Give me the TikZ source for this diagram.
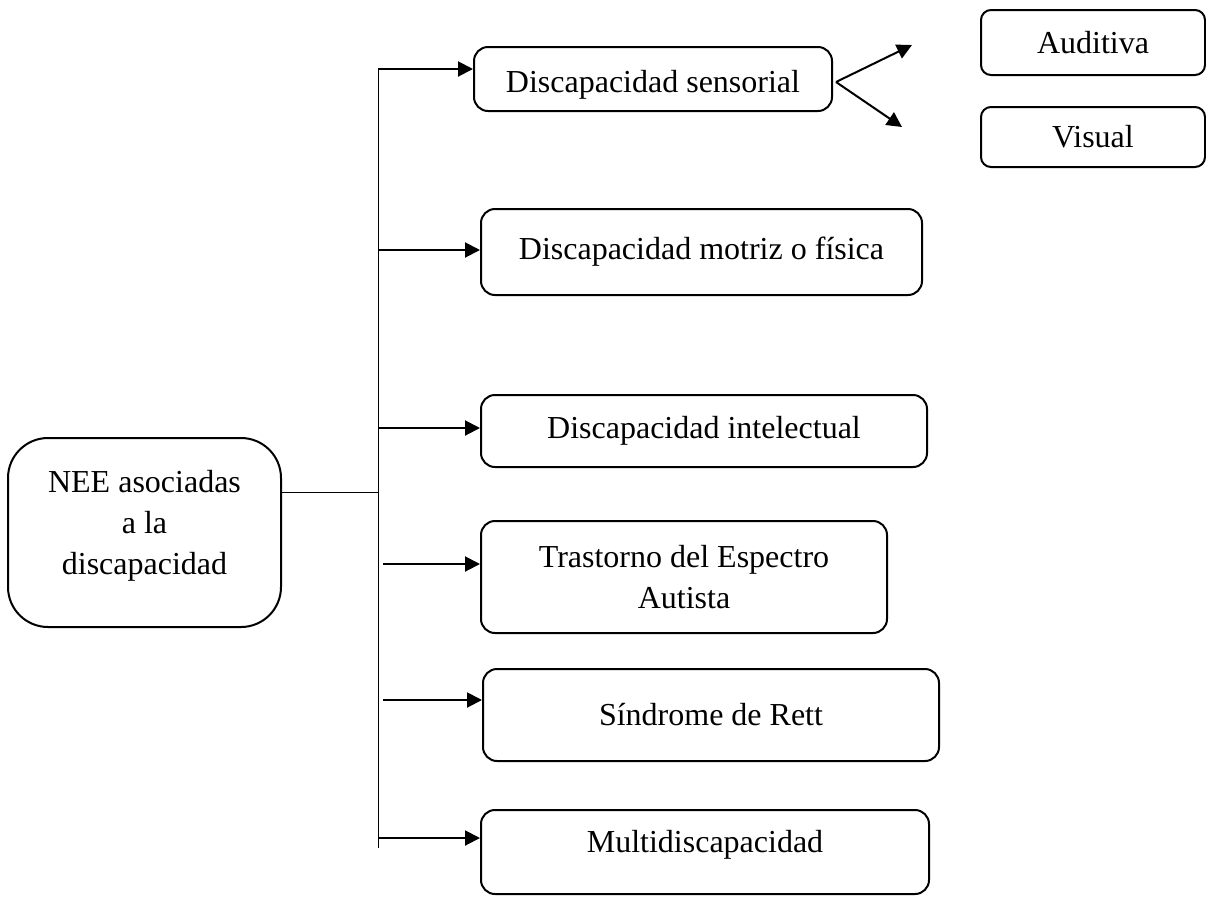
\documentclass[tikz,border=0pt]{standalone}
\usepackage{fontspec}
\setmainfont{Liberation Serif}
\usepackage{tikz}
\usetikzlibrary{arrows.meta,calc}

\begin{document}
\begin{tikzpicture}[x=0.5pt,y=-0.5pt,
  font=\fontsize{16}{20.5}\selectfont,
  box/.style={draw, line width=1pt, rounded corners=7pt, align=center, inner sep=2pt},
  flecha/.style={-{Triangle[length=7.5pt,width=7.5pt]}, line width=1pt}]
\useasboundingbox (0,0) rectangle (1206,896);

% Main box
\node[box, rounded corners=20pt, minimum width=136.5pt, minimum height=94.5pt] (nee) at (144.5,532.5) {NEE asociadas\\a la\\discapacidad\rule[-10pt]{0pt}{0pt}};

% Branches
\node[box, minimum width=179pt, minimum height=32pt, text height=17pt, text depth=3.5pt] (sens) at (653,79) {Discapacidad sensorial};
\node[box, minimum width=220.5pt, minimum height=43pt] (motriz) at (701.5,252) {Discapacidad motriz o física};
\node[box, minimum width=223pt, minimum height=36pt] (intel) at (704,431) {Discapacidad intelectual};
\node[box, minimum width=203pt, minimum height=56pt] (tea) at (684,577) {Trastorno del Espectro\\Autista};
\node[box, minimum width=228pt, minimum height=46pt] (rett) at (711,715) {Síndrome de Rett};
\node[box, minimum width=224pt, minimum height=42pt, text height=10.9pt, text depth=10.5pt] (multi) at (705,852) {Multidiscapacidad};

% Sensory types
\node[box, rounded corners=5pt, minimum width=112pt, minimum height=32.5pt] (aud) at (1093,42.5) {Auditiva};
\node[box, rounded corners=5pt, minimum width=112pt, minimum height=30pt] (vis) at (1093,137) {Visual};

% Trunk
\coordinate (top) at (378,68);
\coordinate (bot) at (378,848);
\coordinate (j) at (378,492);
\draw[line width=0.5pt] (top) -- (bot);
\draw[line width=0.5pt] (nee.east |- j) -- (j);

% Arrows to branches
\coordinate (a1) at (378,69);
\coordinate (a2) at (378,250);
\coordinate (a3) at (378,428);
\coordinate (a4) at (383,564);
\coordinate (a5) at (383,700);
\coordinate (a6) at (378,838);
\draw[flecha] (a1) -- (a1 -| sens.west);
\draw[flecha] (a2) -- (a2 -| motriz.west);
\draw[flecha] (a3) -- (a3 -| intel.west);
\draw[flecha] (a4) -- (a4 -| tea.west);
\draw[flecha] (a5) -- (a5 -| rett.west);
\draw[flecha] (a6) -- (a6 -| multi.west);

% Split
\coordinate (v) at (836,82);
\coordinate (va) at (912,45);
\coordinate (vb) at (902,127);
\draw[flecha] (v) -- (va);
\draw[flecha] (v) -- (vb);
\end{tikzpicture}
\end{document}
